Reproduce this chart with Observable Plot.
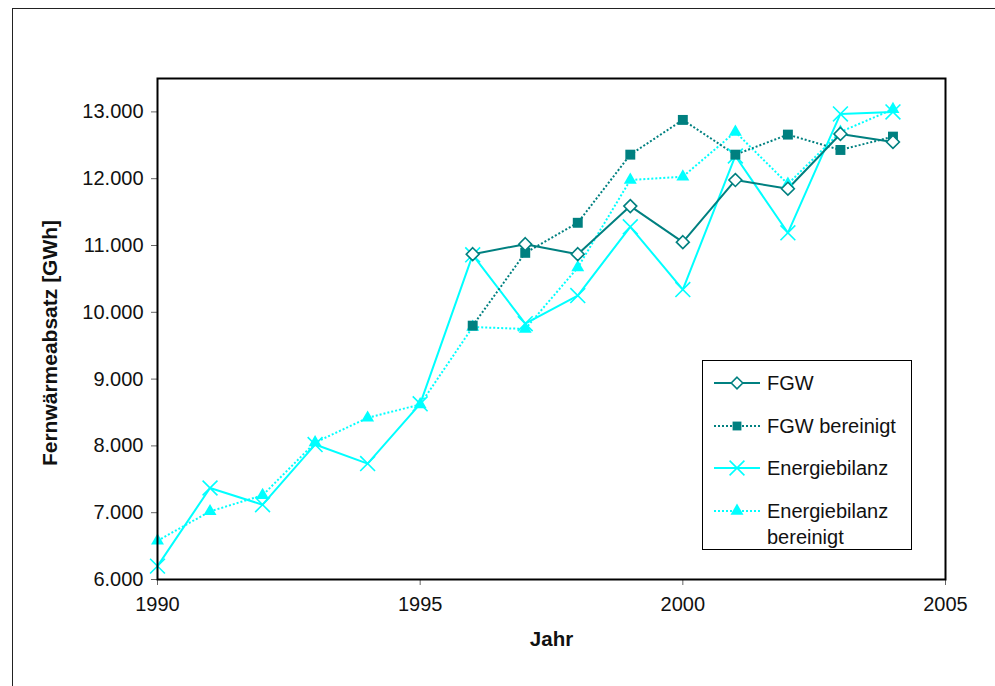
<!DOCTYPE html>
<html>
<head>
<meta charset="utf-8">
<script src="https://cdn.jsdelivr.net/npm/d3@7"></script>
<script src="https://cdn.jsdelivr.net/npm/@observablehq/plot@0.6"></script>
<style>
  html, body { margin: 0; padding: 0; background: #fff; }
  #wrap { position: relative; width: 995px; height: 686px; overflow: hidden; font-family: "Liberation Sans", Arial, sans-serif; }
  #outer { position: absolute; left: 12px; top: 8px; right: -20px; bottom: -20px; border: 1px solid #222; }
  #chart { position: absolute; left: 0; top: 0; }
  #legend { position: absolute; left: 702px; top: 360px; }
</style>
</head>
<body>
<div id="wrap">
  <div id="outer"></div>
  <div id="chart"></div>
  <div id="legend"></div>
</div>
<script>
// ---- Data ----
const years = [1990, 1991, 1992, 1993, 1994, 1995, 1996, 1997, 1998, 1999, 2000, 2001, 2002, 2003, 2004];
const energiebilanz = [6200, 7370, 7120, 8020, 7735, 8630, 10860, 9830, 10250, 11280, 10340, 12340, 11190, 12970, 13000];
const energiebilanzBereinigt = [6580, 7020, 7260, 8050, 8420, 8620, 9780, 9750, 10670, 11980, 12030, 12700, 11920, 12700, 13040];
const fgwYears = [1996, 1997, 1998, 1999, 2000, 2001, 2002, 2003, 2004];
const fgw = [10870, 11020, 10870, 11590, 11050, 11980, 11850, 12670, 12550];
const fgwBereinigt = [9800, 10890, 11340, 12360, 12880, 12360, 12660, 12430, 12630];
const xTicks = [1990, 1995, 2000, 2005];
const yTicks = [6000, 7000, 8000, 9000, 10000, 11000, 12000, 13000];
const seriesNames = ["FGW", "FGW bereinigt", "Energiebilanz", "Energiebilanz bereinigt"];
const xLabel = "Jahr";
const yLabel = "Fernwärmeabsatz [GWh]";

const TEAL = "#008080";
const CYAN = "#00FFFF";

const toRows = (xs, vs) => xs.map((x, i) => ({x, y: vs[i]}));
const rFGW = toRows(fgwYears, fgw);
const rFGWb = toRows(fgwYears, fgwBereinigt);
const rEB = toRows(years, energiebilanz);
const rEBb = toRows(years, energiebilanzBereinigt);

const de = d3.formatLocale({decimal: ",", thousands: ".", grouping: [3], currency: ["", ""]});
const fmt = de.format(",.0f");

const FONT = "Liberation Sans, Arial, sans-serif";
const DOTS = "2,2";

const chart = Plot.plot({
  width: 995,
  height: 686,
  marginLeft: 157,
  marginRight: 50,
  marginTop: 78,
  marginBottom: 107,
  style: {fontFamily: FONT, fontSize: "20px", background: "transparent", color: "#000"},
  x: {domain: [1990, 2005]},
  y: {domain: [6000, 13500]},
  marks: [
    Plot.axisX({ticks: xTicks, tickFormat: d => String(d), tickSize: 6, tickPadding: 11, stroke: "#666", fill: "#111", label: null, fontSize: 20}),
    Plot.axisY({ticks: yTicks, tickFormat: fmt, tickSize: 6, tickPadding: 8, stroke: "#666", fill: "#111", label: null, fontSize: 20}),
    Plot.text([xLabel], {frameAnchor: "bottom", dy: 66, fontWeight: "bold", fontSize: 20.5, fill: "#111"}),
    Plot.text([yLabel], {frameAnchor: "left", textAnchor: "middle", rotate: -90, dx: -107, dy: 14, fontWeight: "bold", fontSize: 21, fill: "#111"}),
    // Energiebilanz
    Plot.line(rEB, {x: "x", y: "y", stroke: CYAN, strokeWidth: 2}),
    // Energiebilanz bereinigt
    Plot.line(rEBb, {x: "x", y: "y", stroke: CYAN, strokeWidth: 2, strokeDasharray: DOTS, strokeLinecap: "butt"}),
    // FGW bereinigt
    Plot.line(rFGWb, {x: "x", y: "y", stroke: TEAL, strokeWidth: 2, strokeDasharray: DOTS, strokeLinecap: "butt"}),
    // FGW
    Plot.line(rFGW, {x: "x", y: "y", stroke: TEAL, strokeWidth: 2}),
    Plot.dot(rEB, {x: "x", y: "y", symbol: "times", r: 6.8, stroke: CYAN, strokeWidth: 1.6}),
    Plot.dot(rEBb, {x: "x", y: "y", symbol: "triangle", r: 4.8, fill: CYAN, stroke: "none"}),
    Plot.dot(rFGWb, {x: "x", y: "y", symbol: "square", r: 5.6, fill: TEAL, stroke: "none"}),
    Plot.dot(rFGW, {x: "x", y: "y", symbol: "diamond2", r: 5.8, fill: "white", stroke: TEAL, strokeWidth: 1.6}),
    Plot.frame({stroke: "#000", strokeWidth: 2})
  ]
});
document.getElementById("chart").appendChild(chart);

// ---- Legend ----
const legendItems = [
  {name: seriesNames[0], color: TEAL, dash: null, symbol: d3.symbolDiamond2, r: 5.2, fill: "white", stroke: TEAL},
  {name: seriesNames[1], color: TEAL, dash: DOTS, symbol: d3.symbolSquare, r: 5.0, fill: TEAL, stroke: "none"},
  {name: seriesNames[2], color: CYAN, dash: null, symbol: d3.symbolTimes, r: 6.8, fill: "none", stroke: CYAN},
  {name: seriesNames[3], color: CYAN, dash: DOTS, symbol: d3.symbolTriangle, r: 4.8, fill: CYAN, stroke: "none"}
];
const LW = 210, LH = 190;
const lsvg = d3.select("#legend").append("svg").attr("width", LW).attr("height", LH)
  .style("font-family", FONT).style("font-size", "20px");
lsvg.append("rect").attr("x", 0.5).attr("y", 0.5).attr("width", LW - 1).attr("height", LH - 1)
  .attr("fill", "white").attr("stroke", "#000").attr("stroke-width", 1);
const rowY = [23, 66, 108, 151];
legendItems.forEach((it, i) => {
  const g = lsvg.append("g").attr("transform", `translate(0,${rowY[i]})`);
  g.append("line").attr("x1", 12).attr("x2", 58).attr("y1", 0).attr("y2", 0)
    .attr("stroke", it.color).attr("stroke-width", 2).attr("stroke-dasharray", it.dash);
  g.append("path").attr("transform", "translate(35,0)")
    .attr("d", d3.symbol(it.symbol, Math.PI * it.r * it.r)())
    .attr("fill", it.fill).attr("stroke", it.stroke).attr("stroke-width", 1.6);
  const words = it.name === "Energiebilanz bereinigt" ? ["Energiebilanz", "bereinigt"] : [it.name];
  words.forEach((w, j) => {
    g.append("text").attr("x", 65).attr("y", j * 26).attr("dy", "0.35em").attr("fill", "#111").text(w);
  });
});
</script>
</body>
</html>
